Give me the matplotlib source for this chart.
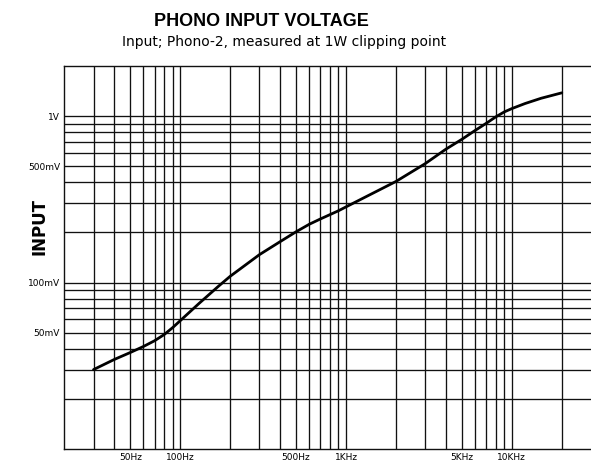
import matplotlib
matplotlib.use("Agg")
import matplotlib.pyplot as plt

# frequency response (Hz, volts)
freq = [30, 40, 50, 60, 70, 80, 90, 100, 130, 170, 200, 300, 400, 500, 600,
        700, 800, 900, 1000, 2000, 3000, 4000, 5000, 6000, 7000, 8000, 9000,
        10000, 12000, 15000, 20000]
volts = [0.030, 0.0345, 0.038, 0.0413, 0.0447, 0.0487, 0.0536, 0.059, 0.075,
         0.095, 0.109, 0.147, 0.176, 0.202, 0.224, 0.241, 0.256, 0.270, 0.285,
         0.405, 0.518, 0.633, 0.726, 0.820, 0.905, 0.990, 1.06, 1.11, 1.19,
         1.28, 1.38]

x_ticks = [50, 100, 500, 1000, 5000, 10000]
x_labels = ["50Hz", "100Hz", "500Hz", "1KHz", "5KHz", "10KHz"]
y_ticks = [0.05, 0.1, 0.5, 1.0]
y_labels = ["50mV", "100mV", "500mV", "1V"]

# grid lines of the log paper
x_grid = [m * 10 ** e for e in range(1, 4) for m in range(1, 10)][2:] + [10000, 20000]
y_grid = [m * 10 ** e for e in (-2, -1) for m in range(1, 10)][1:] + [1.0]

fig = plt.figure(figsize=(5.91, 4.61), dpi=100)
ax = fig.add_axes([0.1088, 0.026, 0.8912, 0.8308])

for xv in x_grid:
    ax.axvline(xv, color="#111111", lw=0.95, zorder=1)
for yv in y_grid:
    ax.axhline(yv, color="#111111", lw=0.95, zorder=1)

ax.plot(freq, volts, color="black", lw=2.0, zorder=3,
        solid_joinstyle="round", solid_capstyle="round")

ax.set_xscale("log")
ax.set_yscale("log")
ax.set_xlim(20, 30000)
ax.set_ylim(0.01, 2.0)

ax.set_xticks(x_ticks)
ax.set_xticklabels(x_labels)
ax.set_xticks([], minor=True)
ax.set_yticks(y_ticks)
ax.set_yticklabels(y_labels)
ax.set_yticks([], minor=True)
ax.tick_params(length=0, labelsize=6.5, pad=3)

for s in ax.spines.values():
    s.set_color("#111111")
    s.set_linewidth(1.0)
ax.spines["right"].set_visible(False)

ax.set_ylabel("INPUT", fontsize=12, fontweight="bold")
ax.yaxis.set_label_coords(-0.030, 0.581)

fig.text(0.4416, 1 - 21 / 461, "PHONO INPUT VOLTAGE", ha="center", va="center",
         fontsize=13, fontweight="bold", family="Liberation Sans")
fig.text(0.48, 1 - 42 / 461, "Input; Phono-2, measured at 1W clipping point",
         ha="center", va="center", fontsize=10)

fig.savefig("out.png", dpi=100)
